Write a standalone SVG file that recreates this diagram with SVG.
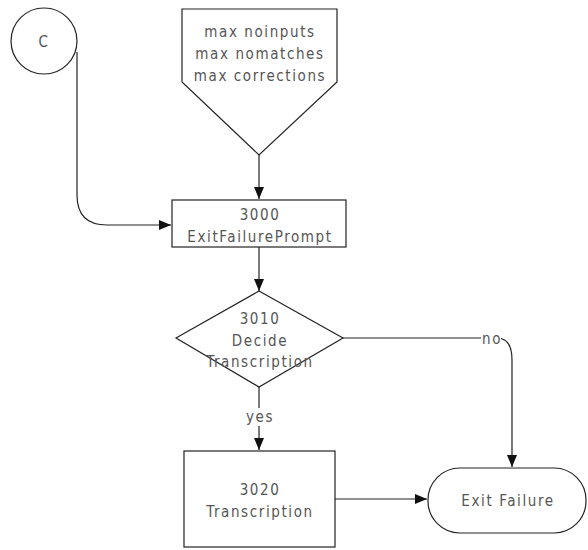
<svg xmlns="http://www.w3.org/2000/svg" width="588" height="550" viewBox="0 0 588 550">
<style>
.shape{fill:#fff;stroke:#222;stroke-width:1.2}
.edge{fill:none;stroke:#222;stroke-width:1.2}
.t{font-family:"Liberation Sans Narrow","DejaVu Sans Condensed","Liberation Sans",Arial,sans-serif;font-size:15px;fill:#555;text-anchor:middle;letter-spacing:1.6px}
.lbl{fill:#fff}
</style>
<defs>
<marker id="arr" viewBox="0 0 12 10" refX="12" refY="5" markerWidth="12" markerHeight="10" markerUnits="userSpaceOnUse" orient="auto">
<path d="M0,0 L12,5 L0,10 z" fill="#111"/>
</marker>
</defs>
<rect width="588" height="550" fill="#fff"/>
<g id="connectors">
<path class="edge" d="M77,52 V195 Q77,225 107,225 H171" marker-end="url(#arr)"/>
<path class="edge" d="M259,155 V199" marker-end="url(#arr)"/>
<path class="edge" d="M259,247 V291" marker-end="url(#arr)"/>
<path class="edge" d="M343,338 H497 Q512,338 512,360 V467" marker-end="url(#arr)"/>
<rect class="lbl" x="481" y="330" width="20" height="16"/>
<text class="t" x="492" y="344">no</text>
<path class="edge" d="M259,387 V450" marker-end="url(#arr)"/>
<rect class="lbl" x="245" y="408" width="28" height="18"/>
<text class="t" x="260" y="422">yes</text>
<path class="edge" d="M335,499 H427" marker-end="url(#arr)"/>
</g>
<g id="node-c">
<circle class="shape" cx="44" cy="41" r="33"/>
<text class="t" x="44" y="47">C</text>
</g>
<g id="node-offpage">
<path class="shape" d="M182,9 H337 V82 L259,155 L182,82 Z"/>
<text class="t" x="260" y="37">max noinputs</text>
<text class="t" x="260" y="59">max nomatches</text>
<text class="t" x="260" y="81">max corrections</text>
</g>
<g id="node-3000">
<rect class="shape" x="172" y="200" width="174" height="47"/>
<text class="t" x="260" y="220">3000</text>
<text class="t" x="260" y="242">ExitFailurePrompt</text>
</g>
<g id="node-3010">
<path class="shape" d="M259,291 L343,338 L259,387 L176,338 Z"/>
<text class="t" x="260" y="324">3010</text>
<text class="t" x="260" y="346">Decide</text>
<text class="t" x="260" y="367">Transcription</text>
</g>
<g id="node-3020">
<rect class="shape" x="184" y="451" width="151" height="96"/>
<text class="t" x="260" y="495">3020</text>
<text class="t" x="260" y="517">Transcription</text>
</g>
<g id="node-exit">
<rect class="shape" x="428" y="468" width="158" height="65" rx="32" ry="32"/>
<text class="t" x="508" y="506">Exit Failure</text>
</g>
</svg>
